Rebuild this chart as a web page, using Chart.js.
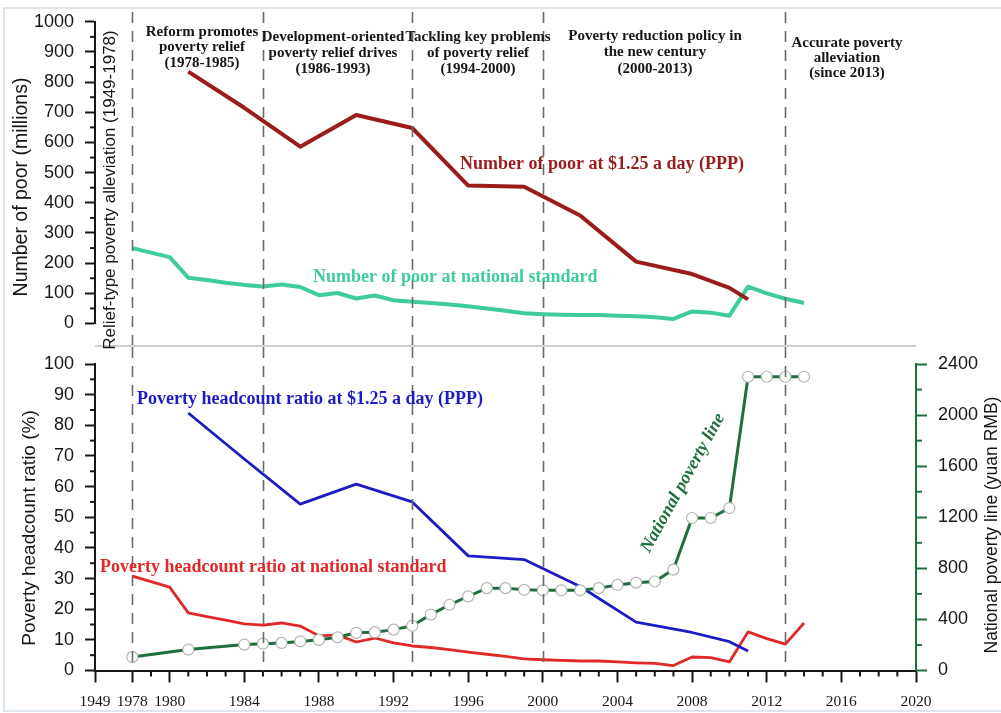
<!DOCTYPE html>
<html>
<head>
<meta charset="utf-8">
<script src="https://cdn.jsdelivr.net/npm/chart.js@4.4.1/dist/chart.umd.min.js"></script>
<style>
  html, body { margin: 0; padding: 0; background: #fff; }
  #wrap { position: relative; width: 1001px; height: 713px; overflow: hidden; background: #fff; }
  #frame { position: absolute; left: 3px; top: 7px; width: 1010px; height: 705px; border: 2px solid #dfe5ec; box-sizing: border-box; }
  #topChart { position: absolute; left: 0; top: 0; }
  #bottomChart { position: absolute; left: 0; top: 330px; }
</style>
</head>
<body>
<div id="wrap">
  <div id="frame"></div>
  <canvas id="topChart" width="1001" height="350"></canvas>
  <canvas id="bottomChart" width="1001" height="383"></canvas>
</div>
<script>
// x axis: the "1949" tick is drawn two years left of 1978 (axis break)
const xTickYears = [1976, 1978, 1980, 1984, 1988, 1992, 1996, 2000, 2004, 2008, 2012, 2016, 2020]
const xTickLabels = ['1949', '1978', '1980', '1984', '1988', '1992', '1996', '2000', '2004', '2008', '2012', '2016', '2020']
const stageYears = [1978, 1985, 1993, 2000, 2013]

// top panel: number of poor (millions)
const poorPPPYears = [1981, 1984, 1987, 1990, 1993, 1996, 1999, 2002, 2005, 2008, 2010, 2011]
const poorPPP = [835, 715, 586, 691, 648, 457, 453, 358, 205, 164, 118, 80]

const poorNatYears = [1978, 1980, 1981, 1982, 1983, 1984, 1985, 1986, 1987, 1988, 1989, 1990, 1991, 1992, 1993,
    1994, 1995, 1996, 1997, 1998, 1999, 2000, 2001, 2002, 2003, 2004, 2005, 2006, 2007, 2008, 2009, 2010,
    2011, 2012, 2013, 2014]
const poorNat = [250, 220, 152, 144, 135, 128, 123, 129, 121, 94, 101, 83, 93, 77, 72,
    68, 63, 57, 50, 42, 34, 31, 29, 28, 28, 26, 24, 21, 15, 40, 36, 26,
    122, 100, 82, 68]

// bottom panel: headcount ratio (%) and national poverty line (yuan)
const ratioPPPYears = [1981, 1984, 1987, 1990, 1993, 1996, 1999, 2002, 2005, 2008, 2010, 2011]
const ratioPPP = [84, 69, 54.3, 60.8, 55, 37.4, 36.2, 27.4, 15.8, 12.4, 9.4, 6.4]

const ratioNatYears = [1978, 1980, 1981, 1982, 1983, 1984, 1985, 1986, 1987, 1988, 1989, 1990, 1991, 1992, 1993,
    1994, 1995, 1996, 1997, 1998, 1999, 2000, 2001, 2002, 2003, 2004, 2005, 2006, 2007, 2008, 2009, 2010,
    2011, 2012, 2013, 2014]
const ratioNat = [30.8, 27.2, 18.8, 17.6, 16.4, 15.2, 14.8, 15.5, 14.5, 11.3, 11.6, 9.3, 10.6, 9.0, 8.0,
    7.5, 6.8, 6.0, 5.3, 4.6, 3.8, 3.5, 3.3, 3.1, 3.1, 2.8, 2.5, 2.3, 1.6, 4.4, 4.2, 2.8,
    12.6, 10.4, 8.6, 15.5]

const lineYears = [1978, 1981, 1984, 1985, 1986, 1987, 1988, 1989, 1990, 1991, 1992, 1993, 1994, 1995, 1996,
    1997, 1998, 1999, 2000, 2001, 2002, 2003, 2004, 2005, 2006, 2007, 2008, 2009, 2010, 2011, 2012, 2013, 2014]
const povertyLine = [105, 164, 203, 210, 216, 228, 240, 260, 295, 300, 320, 350, 438, 515, 580,
    645, 645, 632, 628, 628, 628, 645, 670, 688, 697, 790, 1194, 1194, 1272, 2300, 2300, 2300, 2300]

const darkRed = '#9a1c1c'
const teal = '#3fcc9c'
const blue = '#1c1cc4'
const red = '#e12828'
const green = '#1f6e3c'
const ink = '#161616'

const toPoints = (xs, ys) => xs.map((x, i) => ({x: x, y: ys[i]}))
const range = (a, b, step) => {
    let out = []
    for (let v = a; v <= b + 1e-9; v += step) out.push(v)
    return out
}

const serifBold = 'bold 15px "Liberation Serif", "Times New Roman", serif'
const labelFont = 'bold 18px "Liberation Serif", "Times New Roman", serif'
const sans = '"Liberation Sans", Arial, sans-serif'

// draws the stage dividers, minor ticks and all free text
const overlay = {
    id: 'overlay',
    afterDraw(chart, args, opts) {
        const ctx = chart.ctx
        const xs = chart.scales.x
        ctx.save()

        // minor ticks
        ;(opts.minor || []).forEach(m => {
            const s = chart.scales[m.axis]
            ctx.strokeStyle = m.color
            ctx.lineWidth = 2
            m.values.forEach(v => {
                const p = s.getPixelForValue(v)
                ctx.beginPath()
                if (m.axis === 'x') {
                    ctx.moveTo(p, s.top); ctx.lineTo(p, s.top + m.len)
                } else if (s.position === 'left') {
                    ctx.moveTo(s.right - m.len, p); ctx.lineTo(s.right, p)
                } else {
                    ctx.moveTo(s.left, p); ctx.lineTo(s.left + m.len, p)
                }
                ctx.stroke()
            })
        })

        // dashed stage lines
        ctx.strokeStyle = '#6a6a6a'
        ctx.lineWidth = 1.6
        ctx.setLineDash([11, 8])
        stageYears.forEach(yr => {
            const x = Math.round(xs.getPixelForValue(yr)) + 0.5
            ctx.beginPath()
            ctx.moveTo(x, opts.vTop)
            ctx.lineTo(x, opts.vBottom === 'area' ? chart.chartArea.bottom : opts.vBottom)
            ctx.stroke()
        })
        ctx.setLineDash([])

        if (opts.separator) {
            ctx.strokeStyle = '#a0a0a0'
            ctx.lineWidth = 1.2
            ctx.beginPath()
            ctx.moveTo(chart.chartArea.left, opts.separator)
            ctx.lineTo(chart.chartArea.right, opts.separator)
            ctx.stroke()
        }

        // texts
        ;(opts.texts || []).forEach(t => {
            ctx.save()
            ctx.translate(t.x, t.y)
            if (t.rot) ctx.rotate(t.rot * Math.PI / 180)
            ctx.font = t.font
            ctx.fillStyle = t.color || ink
            ctx.textAlign = t.align || 'center'
            ctx.textBaseline = 'middle'
            const lines = Array.isArray(t.text) ? t.text : [t.text]
            lines.forEach((line, i) => ctx.fillText(line, 0, (t.dy || 0) * i))
            ctx.restore()
        })
        ctx.restore()
    }
}

const yTickFont = {family: sans, size: 18}
const plain = v => String(v)

new Chart(document.getElementById('topChart'), {
    type: 'line',
    data: {
        datasets: [
            {
                label: 'Number of poor at $1.25 a day (PPP)',
                data: toPoints(poorPPPYears, poorPPP),
                borderColor: darkRed,
                borderWidth: 4,
                pointRadius: 0,
                borderJoinStyle: 'round'
            },
            {
                label: 'Number of poor at national standard',
                data: toPoints(poorNatYears, poorNat),
                borderColor: teal,
                borderWidth: 4,
                pointRadius: 0,
                borderJoinStyle: 'round'
            }
        ]
    },
    options: {
        responsive: false,
        animation: false,
        devicePixelRatio: 1,
        layout: {padding: {top: 20.5, bottom: 26.5, left: 0, right: 85}},
        plugins: {
            legend: {display: false},
            tooltip: {enabled: false},
            overlay: {
                vTop: 12,
                vBottom: 345,
                separator: 346,
                minor: [{axis: 'y', values: range(50, 950, 100), len: 5, color: ink}],
                texts: [
                    {text: 'Number of poor (millions)', x: 22, y: 187, rot: -90, font: '19.5px ' + sans},
                    {text: 'Relief-type poverty alleviation (1949-1978)', x: 110, y: 190, rot: -90, font: '17px ' + sans},
                    {text: ['Reform promotes', 'poverty relief', '(1978-1985)'], x: 202, y: 32, dy: 15.5, font: serifBold},
                    {text: ['Development-oriented', 'poverty relief drives', '(1986-1993)'], x: 333, y: 37, dy: 16, font: serifBold},
                    {text: ['Tackling key problems', 'of poverty relief', '(1994-2000)'], x: 478, y: 37, dy: 16, font: serifBold},
                    {text: ['Poverty reduction policy in', 'the new century', '(2000-2013)'], x: 655, y: 36, dy: 16.5, font: serifBold},
                    {text: ['Accurate poverty', 'alleviation', '(since 2013)'], x: 847, y: 43, dy: 15, font: serifBold},
                    {text: 'Number of poor at $1.25 a day (PPP)', x: 460, y: 164, align: 'left', font: labelFont, color: darkRed},
                    {text: 'Number of poor at national standard', x: 313, y: 277, align: 'left', font: labelFont, color: teal}
                ]
            }
        },
        scales: {
            x: {type: 'linear', min: 1976, max: 2020, display: false},
            y: {
                min: 0,
                max: 1000,
                ticks: {stepSize: 100, font: yTickFont, color: ink, padding: 11, callback: plain},
                grid: {drawOnChartArea: false, tickLength: 10, tickColor: ink, tickWidth: 2},
                border: {color: ink, width: 2},
                afterFit: s => { s.width = 95 }
            }
        }
    },
    plugins: [overlay]
})

new Chart(document.getElementById('bottomChart'), {
    type: 'line',
    data: {
        datasets: [
            {
                label: 'National poverty line',
                data: toPoints(lineYears, povertyLine),
                yAxisID: 'y2',
                borderColor: green,
                borderWidth: 3,
                pointRadius: 5.5,
                pointBackgroundColor: '#ffffff',
                pointBorderColor: '#b4b4b4',
                pointBorderWidth: 1.2
            },
            {
                label: 'Poverty headcount ratio at $1.25 a day (PPP)',
                data: toPoints(ratioPPPYears, ratioPPP),
                yAxisID: 'y',
                borderColor: blue,
                borderWidth: 2.8,
                pointRadius: 0,
                borderJoinStyle: 'round'
            },
            {
                label: 'Poverty headcount ratio at national standard',
                data: toPoints(ratioNatYears, ratioNat),
                yAxisID: 'y',
                borderColor: red,
                borderWidth: 2.8,
                pointRadius: 0,
                borderJoinStyle: 'round'
            }
        ]
    },
    options: {
        responsive: false,
        animation: false,
        devicePixelRatio: 1,
        layout: {padding: {top: 34, bottom: 0, left: 0, right: 0}},
        plugins: {
            legend: {display: false},
            tooltip: {enabled: false},
            overlay: {
                vTop: 17,
                vBottom: 'area',
                minor: [
                    {axis: 'y', values: range(5, 95, 10), len: 5, color: ink},
                    {axis: 'y2', values: range(200, 2200, 400), len: 6, color: green},
                    {axis: 'x', values: range(1979, 2019, 1).filter(v => xTickYears.indexOf(v) < 0), len: 6, color: ink}
                ],
                texts: [
                    {text: 'Poverty headcount ratio (%)', x: 30, y: 198, rot: -90, font: '19px ' + sans},
                    {text: 'National poverty line (yuan RMB)', x: 992, y: 195, rot: -90, font: '17.5px ' + sans},
                    {text: 'Poverty headcount ratio at $1.25 a day (PPP)', x: 137, y: 69, align: 'left', font: labelFont, color: blue},
                    {text: 'Poverty headcount ratio at national standard', x: 100, y: 237, align: 'left', font: labelFont, color: red},
                    {text: 'National poverty line', x: 683, y: 153, rot: -61, font: 'italic ' + labelFont, color: green}
                ]
            }
        },
        scales: {
            x: {
                type: 'linear',
                min: 1976,
                max: 2020,
                afterBuildTicks: s => { s.ticks = xTickYears.map(v => ({value: v})) },
                ticks: {
                    autoSkip: false,
                    maxRotation: 0,
                    padding: 10.5,
                    color: ink,
                    font: {family: '"Liberation Serif", "Times New Roman", serif', size: 15.5},
                    callback: v => xTickLabels[xTickYears.indexOf(v)]
                },
                grid: {drawOnChartArea: false, tickLength: 12, tickColor: ink, tickWidth: 2},
                border: {color: ink, width: 2},
                afterFit: s => { s.height = 42.5 }
            },
            y: {
                position: 'left',
                min: 0,
                max: 100,
                ticks: {stepSize: 10, font: yTickFont, color: ink, padding: 11, callback: plain},
                grid: {drawOnChartArea: false, tickLength: 10, tickColor: ink, tickWidth: 2},
                border: {color: ink, width: 2},
                afterFit: s => { s.width = 95 }
            },
            y2: {
                position: 'right',
                min: 0,
                max: 2400,
                ticks: {stepSize: 400, font: yTickFont, color: ink, padding: 11, callback: plain},
                grid: {drawOnChartArea: false, tickLength: 11, tickColor: green, tickWidth: 2},
                border: {color: green, width: 2},
                afterFit: s => { s.width = 85 }
            }
        }
    },
    plugins: [overlay]
})
</script>
</body>
</html>
